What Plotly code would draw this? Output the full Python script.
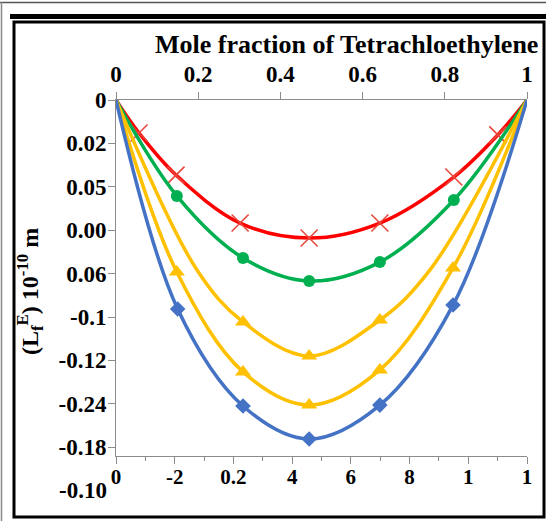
import plotly.graph_objects as go

# ---------------- data ----------------
top_tickvals = [0, 0.2, 0.4, 0.6, 0.8, 1.0]
top_ticktext = ["0", "0.2", "0.4", "0.6", "0.8", "1"]

y_tickvals = [0, -0.02, -0.04, -0.06, -0.08, -0.10, -0.12, -0.14, -0.16]
y_ticktext = ["0", "0.02", "0.05", "0.00", "0.06", "-0.1", "-0.12", "-0.24", "-0.18"]
extra_y_val = -0.18
extra_y_text = "-0.10"

bottom_tickvals = [0, 1, 2, 3, 4, 5, 6, 7]
bottom_ticktext = ["0", "-2", "0.2", "4", "6", "8", "1", "1"]

# curves (line points) and markers
red_x = [0, 0.056, 0.146, 0.302, 0.470, 0.642, 0.822, 0.929, 1.0]
red_y = [0, -0.0152, -0.0346, -0.0567, -0.0636, -0.0567, -0.0355, -0.0161, 0]
red_mx = [0.056, 0.146, 0.302, 0.470, 0.642, 0.822, 0.929]
red_my = [-0.0152, -0.0346, -0.0567, -0.0636, -0.0567, -0.0355, -0.0161]

green_x = [0, 0.148, 0.309, 0.470, 0.642, 0.822, 1.0]
green_y = [0, -0.0442, -0.0728, -0.0834, -0.0747, -0.0461, 0]
green_mx = [0.148, 0.309, 0.470, 0.642, 0.822]
green_my = [-0.0442, -0.0728, -0.0834, -0.0747, -0.0461]

yel1_x = [0, 0.197, 0.309, 0.470, 0.642, 0.764, 1.0]
yel1_y = [0, -0.0783, -0.1023, -0.1180, -0.1014, -0.0783, 0]
yel1_mx = [0.309, 0.470, 0.642]
yel1_my = [-0.1023, -0.1180, -0.1014]

yel2_x = [0, 0.148, 0.309, 0.470, 0.642, 0.820, 1.0]
yel2_y = [0, -0.0793, -0.1253, -0.1406, -0.1244, -0.0774, 0]
yel2_mx = [0.148, 0.309, 0.470, 0.642, 0.820]
yel2_my = [-0.0793, -0.1253, -0.1406, -0.1244, -0.0774]

blue_x = [0, 0.150, 0.309, 0.470, 0.642, 0.820, 1.0]
blue_y = [0, -0.0963, -0.1410, -0.1562, -0.1406, -0.0945, 0]
blue_mx = [0.150, 0.309, 0.470, 0.642, 0.820]
blue_my = [-0.0963, -0.1410, -0.1562, -0.1406, -0.0945]

# ---------------- layout geometry ----------------
W, H = 546, 521
L, R, T, B = 116, 19, 100, 65
PW, PH = W - L - R, H - T - B


def px(xp):
    return (xp - L) / PW


def py(yp):
    return (H - B - yp) / PH


FONT = "Liberation Serif"
AX = "#8c8c8c"

fig = go.Figure()

series = [
    (red_x, red_y, red_mx, red_my, "#FF0000", dict(symbol="x-thin", size=17, line=dict(width=1.6, color="#E8473C"), color="#E8473C")),
    (green_x, green_y, green_mx, green_my, "#00B050", dict(symbol="circle", size=12, color="#00B050")),
    (yel1_x, yel1_y, yel1_mx, yel1_my, "#FFC000", dict(symbol="triangle-up", size=14, color="#FFC000")),
    (yel2_x, yel2_y, yel2_mx, yel2_my, "#FFC000", dict(symbol="triangle-up", size=14, color="#FFC000")),
    (blue_x, blue_y, blue_mx, blue_my, "#4472C4", dict(symbol="diamond", size=12, color="#4472C4")),
]
for lx, ly, mx, my, col, mk in series:
    fig.add_trace(go.Scatter(x=lx, y=ly, mode="lines", line=dict(color=col, width=3.5, shape="spline", smoothing=1.0),
                             showlegend=False, hoverinfo="skip"))
    fig.add_trace(go.Scatter(x=mx, y=my, mode="markers", marker=mk, showlegend=False))

# invisible trace for the bottom axis
fig.add_trace(go.Scatter(x=[0, 7], y=[0, 0], xaxis="x2", mode="markers", marker=dict(opacity=0), showlegend=False, hoverinfo="skip"))

y_min = -0.02 * (PH / 43.4)

tickfont = dict(family=FONT, size=23, color="black", weight="bold")

fig.update_layout(
    width=W, height=H,
    margin=dict(l=L, r=R, t=T, b=B),
    paper_bgcolor="white", plot_bgcolor="white",
    xaxis=dict(side="top", range=[0, 1], tickvals=top_tickvals, ticktext=top_ticktext,
               showgrid=False, zeroline=False, showline=True, linecolor=AX, linewidth=1,
               ticks="outside", ticklen=7, tickcolor=AX, tickfont=tickfont, anchor="y",
               ticklabelstandoff=1),
    xaxis2=dict(overlaying="x", side="bottom", anchor="y", range=[0, 7], tickvals=bottom_tickvals,
                ticktext=bottom_ticktext, showgrid=False, zeroline=False, showline=True, linecolor=AX,
                linewidth=1, ticks="outside", ticklen=7, tickcolor=AX,
                tickfont=dict(family=FONT, size=21, color="black", weight="bold"),
                ticklabelstandoff=-5,
                minor=dict(dtick=0.5, ticklen=4, ticks="outside", tickcolor=AX)),
    yaxis=dict(range=[y_min, 0], tickvals=y_tickvals, ticktext=y_ticktext, showgrid=False, zeroline=False,
               showline=True, linecolor=AX, linewidth=1, ticks="outside", ticklen=7, tickcolor=AX,
               tickfont=tickfont, ticklabelstandoff=-3),
)

annotations = [
    dict(text="Mole fraction of Tetrachloethylene", x=px(346), y=py(44), xref="paper", yref="paper",
         showarrow=False, font=dict(family=FONT, size=26, color="black", weight="bold"), xanchor="center", yanchor="middle"),
    dict(text="(L<sub>f</sub><sup>E</sup>) 10<sup>-10</sup> m", x=px(30), y=py(292), xref="paper", yref="paper",
         textangle=-90, showarrow=False, font=dict(family=FONT, size=24, color="black", weight="bold"),
         xanchor="center", yanchor="middle"),
    dict(text=extra_y_text, x=px(109), y=py(100 + (extra_y_val / -0.02) * 43.4), xref="paper", yref="paper",
         showarrow=False, font=tickfont, xanchor="right", yanchor="middle"),
]
fig.update_layout(annotations=annotations)

shapes = [
    dict(type="line", xref="paper", yref="paper", x0=px(0), x1=px(546), y0=py(2.5), y1=py(2.5), line=dict(color="#555555", width=1.5)),
    dict(type="line", xref="paper", yref="paper", x0=px(1.5), x1=px(1.5), y0=py(2), y1=py(521), line=dict(color="#888888", width=1.5)),
    dict(type="rect", xref="paper", yref="paper", x0=px(10), x1=px(546), y0=py(14), y1=py(19), fillcolor="black", line=dict(width=0)),
    dict(type="rect", xref="paper", yref="paper", x0=px(14), x1=px(544), y0=py(22), y1=py(517), line=dict(color="black", width=3)),
]
fig.update_layout(shapes=shapes)

fig.write_html("out.html")
